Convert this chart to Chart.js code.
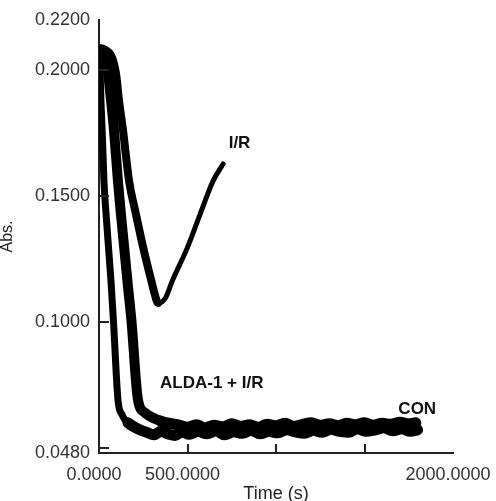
<!DOCTYPE html>
<html>
<head>
<meta charset="UTF-8">
<title>Abs. vs Time</title>
<script src="https://cdn.jsdelivr.net/npm/chart.js"></script>
<style>
    html, body { margin: 0; padding: 0; background: #fff; }
    #wrap { width: 496px; height: 501px; }
</style>
</head>
<body>
<div id="wrap"><canvas id="absChart" width="496" height="501"></canvas></div>
<script>
// values
const conTime = [0, 6, 11, 20, 28, 40, 68, 82, 107, 130, 164, 232, 270, 310, 350, 390, 430, 470, 510, 560, 610, 660, 710, 760, 810, 860, 910, 960, 1010, 1060, 1110, 1160, 1210, 1260, 1310, 1360, 1410, 1460, 1510, 1560, 1610, 1660, 1710, 1760, 1800];
const conAbs = [0.2070, 0.2000, 0.1880, 0.1720, 0.1560, 0.1428, 0.1160, 0.1000, 0.0692, 0.0632, 0.0600, 0.0572, 0.0562, 0.0552, 0.0566, 0.0556, 0.0550, 0.0564, 0.0554, 0.0566, 0.0556, 0.0568, 0.0552, 0.0564, 0.0558, 0.0570, 0.0556, 0.0566, 0.0560, 0.0572, 0.0564, 0.0558, 0.0570, 0.0562, 0.0574, 0.0566, 0.0562, 0.0576, 0.0566, 0.0572, 0.0580, 0.0568, 0.0576, 0.0566, 0.0572];

const aldaTime = [0, 28, 51, 68, 85, 107, 124, 161, 184, 220, 260, 345, 458, 500, 550, 600, 650, 700, 750, 800, 850, 900, 950, 1000, 1050, 1100, 1150, 1200, 1250, 1300, 1350, 1400, 1450, 1500, 1550, 1600, 1650, 1700, 1750, 1790];
const aldaAbs = [0.2085, 0.2080, 0.1988, 0.1880, 0.1760, 0.1560, 0.1428, 0.1160, 0.1000, 0.0692, 0.0640, 0.0608, 0.0590, 0.0582, 0.0592, 0.0580, 0.0590, 0.0584, 0.0596, 0.0586, 0.0592, 0.0582, 0.0594, 0.0588, 0.0598, 0.0586, 0.0594, 0.0600, 0.0590, 0.0596, 0.0588, 0.0598, 0.0592, 0.0600, 0.0590, 0.0598, 0.0594, 0.0602, 0.0596, 0.0600];

const irTime = [0, 40, 96, 113, 136, 170, 209, 251, 297, 316, 333, 356, 379, 412, 497, 571, 644, 701];
const irAbs = [0.2085, 0.2080, 0.1988, 0.1880, 0.1760, 0.1560, 0.1428, 0.1292, 0.1160, 0.1108, 0.1076, 0.1080, 0.1100, 0.1160, 0.1292, 0.1428, 0.1560, 0.1628];

const yTickValues = [0.048, 0.1, 0.15, 0.2, 0.22];
const xTickValues = [0, 500, 2000];
const yMarks = [0.05, 0.1, 0.15, 0.2];
const xMarks = [500, 1000, 1500];

// curve labels: [text, time, abs]
const curveLabels = [
    ['I/R', 794, 0.171],
    ['ALDA-1 + I/R', 637, 0.0756],
    ['CON', 1798, 0.0654]
];

function toPoints(xs, ys) {
    return xs.map((x, i) => ({ x: x, y: ys[i] }));
}

// thickness: descent width, then width after time "split"
function series(label, xs, ys, w1, w2, split) {
    return {
        label: label,
        data: toPoints(xs, ys),
        borderColor: '#000',
        borderWidth: w1,
        segment: {
            borderWidth: ctx => ctx.p0.parsed.x >= split ? w2 : w1
        },
        pointRadius: 0,
        cubicInterpolationMode: 'monotone',
        borderJoinStyle: 'round',
        borderCapStyle: 'round'
    };
}

// small tick marks pointing into the plot, plus curve labels
const innerMarks = {
    id: 'innerMarks',
    afterDatasetsDraw(chart) {
        const { ctx, scales: { x, y }, chartArea } = chart;
        ctx.save();
        ctx.strokeStyle = '#222';
        ctx.lineWidth = 2;
        yMarks.forEach(v => {
            const py = Math.round(y.getPixelForValue(v));
            ctx.beginPath();
            ctx.moveTo(chartArea.left, py);
            ctx.lineTo(chartArea.left + 10, py);
            ctx.stroke();
        });
        xMarks.forEach(v => {
            const px = Math.round(x.getPixelForValue(v));
            ctx.beginPath();
            ctx.moveTo(px, chartArea.bottom);
            ctx.lineTo(px, chartArea.bottom - 9);
            ctx.stroke();
        });
        ctx.fillStyle = '#111';
        ctx.font = 'bold 17px "Liberation Sans", Arial, sans-serif';
        ctx.textAlign = 'center';
        ctx.textBaseline = 'middle';
        curveLabels.forEach(([t, tx, ty]) => {
            ctx.fillText(t, x.getPixelForValue(tx), y.getPixelForValue(ty));
        });
        ctx.restore();
    }
};

const tickFont = { family: '"Liberation Sans", Arial, sans-serif', size: 18 };

new Chart(document.getElementById('absChart'), {
    type: 'line',
    data: {
        datasets: [
            series('CON', conTime, conAbs, 7, 11, 150),
            series('ALDA-1 + I/R', aldaTime, aldaAbs, 10, 11, 300),
            series('I/R', irTime, irAbs, 8, 5, 330)
        ]
    },
    options: {
        responsive: false,
        animation: false,
        layout: { padding: { left: 0, right: 43, top: 20, bottom: 0 } },
        plugins: {
            legend: { display: false },
            tooltip: { enabled: false }
        },
        scales: {
            x: {
                type: 'linear',
                min: 0,
                max: 2000,
                afterBuildTicks: s => { s.ticks = xTickValues.map(v => ({ value: v })); },
                afterFit: s => { s.height = 48; s.paddingLeft = 0; s.paddingRight = 0; },
                ticks: {
                    color: '#333',
                    font: tickFont,
                    padding: 11,
                    labelOffset: -5,
                    maxRotation: 0,
                    callback: v => Number(v).toFixed(4)
                },
                grid: { display: true, drawOnChartArea: false, drawTicks: false },
                border: { display: true, color: '#222', width: 2 },
                title: {
                    display: true,
                    text: 'Time (s)',
                    color: '#222',
                    font: { family: '"Liberation Sans", Arial, sans-serif', size: 18 },
                    padding: { top: 0, bottom: -4 }
                }
            },
            y: {
                type: 'linear',
                min: 0.048,
                max: 0.22,
                afterBuildTicks: s => { s.ticks = yTickValues.map(v => ({ value: v })); },
                afterFit: s => { s.width = 99; s.paddingTop = 0; s.paddingBottom = 0; },
                ticks: {
                    color: '#333',
                    font: tickFont,
                    padding: 9,
                    callback: v => Number(v).toFixed(4)
                },
                grid: { display: true, drawOnChartArea: false, drawTicks: false },
                border: { display: true, color: '#222', width: 2 },
                title: {
                    display: true,
                    text: 'Abs.',
                    color: '#222',
                    font: { family: '"Liberation Sans", Arial, sans-serif', size: 16, lineHeight: 1 },
                    padding: { top: 0, bottom: 0 }
                }
            }
        }
    },
    plugins: [innerMarks]
});
</script>
</body>
</html>
